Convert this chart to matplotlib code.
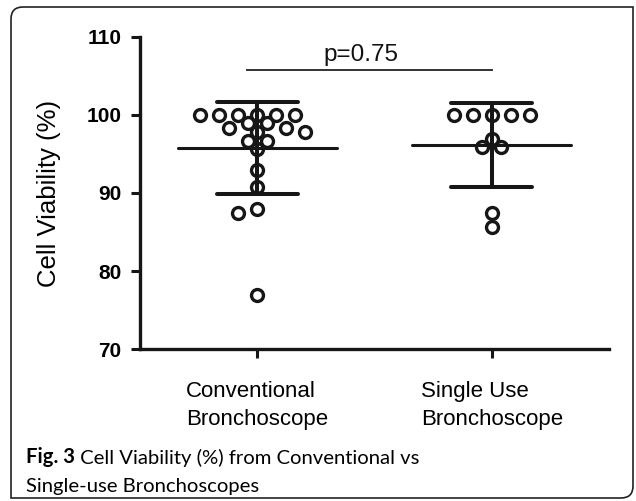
import matplotlib
matplotlib.use("Agg")
import matplotlib.pyplot as plt
from matplotlib.path import Path
from matplotlib.patches import PathPatch
from matplotlib.text import Annotation
import numpy as np

# data
groups = ["Conventional\nBronchoscope", "Single Use\nBronchoscope"]
conventional = [100, 100, 100, 100, 100, 100, 99.0, 99.0, 98.3, 98.3,
                97.8, 97.8, 96.6, 96.6, 95.6, 92.9, 90.8, 88.0, 87.4, 77.0]
single_use = [100, 100, 100, 100, 100, 96.9, 95.9, 95.9, 87.4, 85.7]
y_ticks = [70, 80, 90, 100, 110]
p_label = "p=0.75"
caption_bold = "Fig. 3"
caption_line1 = "Cell Viability (%) from Conventional vs"
caption_line2 = "Single-use Bronchoscopes"

plt.rcParams['font.family'] = ['Liberation Sans', 'DejaVu Sans']
ink = '#161616'
cap_font = ['Lato', 'DejaVu Sans']

W, H = 636, 501
fig = plt.figure(figsize=(W / 100, H / 100), dpi=100)
ax = fig.add_axes([140 / W, 1 - 349.3 / H, 469 / W, 312.6 / H])
ax.set_xlim(0.5, 2.5)
ax.set_ylim(70, 110)


def swarm_x(ax, center, values, step_px=9.5, min_dist_px=12.0):
    """simple beeswarm on a half-symbol grid, worked out in pixel space"""
    pts = ax.transData.transform([(center, v) for v in values])
    order = np.argsort(-np.asarray(values), kind='stable')
    placed = []
    offs = np.zeros(len(values))
    left = right = 0
    for i in order:
        y = pts[i, 1]
        k = 0
        found = None
        while found is None:
            if k == 0:
                cands = [0]
            else:
                cands = [k, -k] if right < left else [-k, k]
            for c in cands:
                x = c * step_px
                if all((x - px) ** 2 + (y - py) ** 2 >= min_dist_px ** 2 for px, py in placed):
                    found = x
                    break
            k += 1
        placed.append((found, y))
        if found < 0:
            left += 1
        elif found > 0:
            right += 1
        offs[i] = found
    back = ax.transData.inverted().transform(np.column_stack([pts[:, 0] + offs, pts[:, 1]]))
    return back[:, 0]


for pos, vals in zip([1, 2], [conventional, single_use]):
    vals = np.asarray(vals, dtype=float)
    mean = vals.mean()
    sd = vals.std(ddof=1)
    # mean line and SD bar
    ax.hlines(mean, pos - 0.34, pos + 0.34, color=ink, lw=2.2, capstyle='round', zorder=2)
    ax.vlines(pos, mean - sd, mean + sd, color=ink, lw=2.9, zorder=2)
    ax.hlines([mean - sd, mean + sd], pos - 0.173, pos + 0.173, color=ink, lw=2.9,
              capstyle='round', zorder=2)
    xs = swarm_x(ax, pos, vals)
    ax.plot(xs, vals, 'o', ms=8.6, mfc='none', mec=ink, mew=2.4, zorder=3, clip_on=False)

# p-value bracket
ax.plot([0.955, 2.0], [105.8, 105.8], color='#333333', lw=1.4, clip_on=False)
ax.text(1.443, 106.3, p_label, ha='center', va='bottom', fontsize=17.5, color='#111111')

# axes styling
for s in ['top', 'right']:
    ax.spines[s].set_visible(False)
for s in ['left', 'bottom']:
    ax.spines[s].set_linewidth(2.4)
    ax.spines[s].set_color(ink)
ax.set_yticks(y_ticks)
ax.set_yticklabels([str(t) for t in y_ticks], fontweight='bold', fontsize=15)
ax.set_xticks([1, 2])
ax.set_xticklabels(groups, fontsize=16, multialignment='left', linespacing=1.45)
ax.tick_params(axis='y', direction='out', length=6.5, width=2.2, color=ink, pad=7)
ax.tick_params(axis='x', direction='out', length=6.5, width=2.2, color=ink, pad=16)
ax.set_ylabel("Cell Viability (%)", fontsize=18.5)
ax.yaxis.set_label_coords(-0.168, 0.5)

# caption: bold figure number, then the title run on after it
t1 = fig.text(26 / W, 1 - 463 / H, caption_bold, fontsize=14.6, fontweight='bold',
              family=cap_font, va='baseline')
fig.add_artist(Annotation(' ' + caption_line1, xy=(1, 0), xycoords=t1, va='bottom',
                          fontsize=14.6, family=cap_font))
fig.text(26 / W, 1 - 492 / H, caption_line2, fontsize=14.6, family=cap_font, va='baseline')

# rounded frame round the whole figure (rounded top-left and bottom-right)
x0, x1, y0, y1, r = 11, 633, 7, 498, 12
pix = [(x0, y0 + r), (x0, y0), (x0 + r, y0), (x1, y0), (x1, y1 - r), (x1, y1), (x1 - r, y1),
       (x0, y1), (x0, y0 + r)]
codes = [Path.MOVETO, Path.CURVE3, Path.CURVE3, Path.LINETO, Path.LINETO, Path.CURVE3,
         Path.CURVE3, Path.LINETO, Path.LINETO]
frame = Path([(px / W, 1 - py / H) for px, py in pix], codes)
fig.add_artist(PathPatch(frame, transform=fig.transFigure, fill=False, lw=1.2, ec='#222222'))

fig.savefig("out.png", dpi=100)
